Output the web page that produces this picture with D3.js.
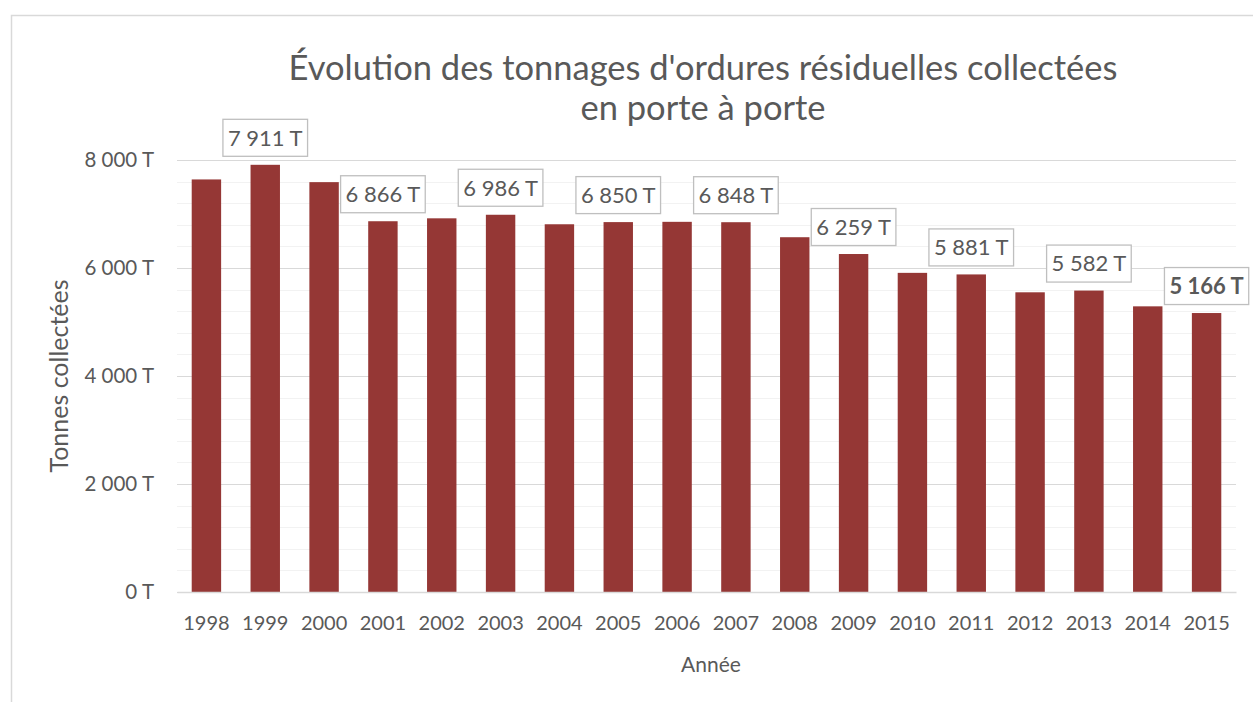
<!DOCTYPE html>
<html>
<head>
<meta charset="utf-8">
<script src="https://cdn.jsdelivr.net/npm/d3@7"></script>
<style>
  body { margin: 0; background: #fff; }
  svg { display: block; font-family: Lato, "Noto Sans", sans-serif; }
  .tick text { fill: #595959; font-family: Lato, "Noto Sans", sans-serif; }
</style>
</head>
<body>
<div id="chart"></div>
<script>
const years = ["1998", "1999", "2000", "2001", "2002", "2003", "2004", "2005", "2006",
  "2007", "2008", "2009", "2010", "2011", "2012", "2013", "2014", "2015"];
const tonnages = [7640, 7911, 7590, 6866, 6920, 6986, 6810, 6850, 6855,
  6848, 6570, 6259, 5910, 5881, 5550, 5582, 5290, 5166];
// Years that carry a data label, last one is shown in bold
const labeledYears = ["1999", "2001", "2003", "2005", "2007", "2009", "2011", "2013", "2015"];
const boldYears = ["2015"];
const yTicks = [0, 2000, 4000, 6000, 8000];
const titleLines = ["Évolution des tonnages d'ordures résiduelles collectées", "en porte à porte"];
const yTitle = "Tonnes collectées";
const xTitle = "Année";

class BarChart {
  constructor(_config, _data) {
    this.config = {
      parentElement: _config.parentElement,
      containerWidth: _config.containerWidth || 1253,
      containerHeight: _config.containerHeight || 702,
      margin: _config.margin || { top: 160, right: 17, bottom: 110, left: 177 },
    };
    this.data = _data;
    this.initVis();
  }

  initVis() {
    let vis = this;

    vis.width = vis.config.containerWidth - vis.config.margin.left - vis.config.margin.right;
    vis.height = vis.config.containerHeight - vis.config.margin.top - vis.config.margin.bottom;

    vis.svg = d3.select(vis.config.parentElement)
      .append("svg")
      .attr("width", vis.config.containerWidth)
      .attr("height", vis.config.containerHeight);

    // chart area frame (runs off the picture on the right and bottom)
    vis.svg.append("rect")
      .attr("x", 11.5)
      .attr("y", 15.5)
      .attr("width", vis.config.containerWidth + 20)
      .attr("height", vis.config.containerHeight + 20)
      .attr("fill", "#fff")
      .attr("stroke", "#d9d9d9")
      .attr("stroke-width", 1.5);

    vis.g = vis.svg.append("g")
      .attr("transform", `translate(${vis.config.margin.left},${vis.config.margin.top})`);

    vis.xScale = d3.scaleBand()
      .domain(years)
      .range([0, vis.width])
      .paddingInner(0.5)
      .paddingOuter(0.25);

    vis.yScale = d3.scaleLinear()
      .domain([0, 8000])
      .range([vis.height, 0]);

    const fr = d3.formatLocale({ decimal: ",", thousands: " ", grouping: [3], currency: ["", " €"] });
    vis.fmt = (v) => fr.format(",")(v) + " T";

    // minor gridlines
    vis.g.append("g")
      .selectAll("line")
      .data(d3.range(0, 8001, 400).filter((v) => v % 2000 !== 0))
      .join("line")
      .attr("x1", 0)
      .attr("x2", vis.width)
      .attr("y1", (d) => Math.round(vis.yScale(d)) + 0.5)
      .attr("y2", (d) => Math.round(vis.yScale(d)) + 0.5)
      .attr("stroke", "#f2f2f2");

    // y axis with major gridlines
    vis.yAxis = d3.axisLeft(vis.yScale)
      .tickValues(yTicks)
      .tickSize(-vis.width)
      .tickPadding(23)
      .tickFormat(vis.fmt);

    vis.g.append("g")
      .attr("class", "y-axis")
      .call(vis.yAxis)
      .attr("font-family", null)
      .call((g) => g.select(".domain").remove())
      .call((g) => g.selectAll(".tick line").attr("stroke", "#d9d9d9").attr("stroke-width", 1.2))
      .call((g) => g.selectAll(".tick text").attr("font-size", 20.5));

    // bars
    vis.g.append("g")
      .selectAll("rect")
      .data(vis.data)
      .join("rect")
      .attr("x", (d) => vis.xScale(d.year))
      .attr("y", (d) => vis.yScale(d.value))
      .attr("width", vis.xScale.bandwidth())
      .attr("height", (d) => vis.height - vis.yScale(d.value))
      .attr("fill", "#953735");

    // x axis
    vis.xAxis = d3.axisBottom(vis.xScale)
      .tickSize(0)
      .tickPadding(24);

    vis.g.append("g")
      .attr("class", "x-axis")
      .attr("transform", `translate(0,${vis.height})`)
      .call(vis.xAxis)
      .attr("font-family", null)
      .call((g) => g.select(".domain").attr("stroke", "#d9d9d9").attr("stroke-width", 1.5))
      .call((g) => g.selectAll(".tick text").attr("font-size", 20));

    // data labels in boxes
    vis.labels = vis.g.append("g")
      .selectAll("g")
      .data(vis.data.filter((d) => labeledYears.includes(d.year)))
      .join("g")
      .attr("transform", (d) =>
        `translate(${vis.xScale(d.year) + vis.xScale.bandwidth() / 2},${vis.yScale(d.value) - 27})`);

    vis.labels.append("rect")
      .attr("fill", "#fff")
      .attr("stroke", "#bfbfbf")
      .attr("stroke-width", 1.3);

    vis.labels.append("text")
      .attr("text-anchor", "middle")
      .attr("dy", "0.36em")
      .attr("font-size", 22)
      .attr("font-weight", (d) => boldYears.includes(d.year) ? "bold" : "normal")
      .attr("fill", "#595959")
      .text((d) => vis.fmt(d.value));

    vis.labels.each(function () {
      const t = d3.select(this).select("text").node().getBBox();
      d3.select(this).select("rect")
        .attr("x", t.x - 5)
        .attr("y", -18.5)
        .attr("width", t.width + 10)
        .attr("height", 37);
    });

    // titles
    vis.svg.append("text")
      .attr("x", 703)
      .attr("y", 80)
      .attr("text-anchor", "middle")
      .attr("font-size", 34.5)
      .attr("fill", "#595959")
      .selectAll("tspan")
      .data(titleLines)
      .join("tspan")
      .attr("x", 703)
      .attr("dy", (d, i) => i === 0 ? 0 : 40)
      .text((d) => d);

    vis.svg.append("text")
      .attr("transform", `translate(68,${vis.config.margin.top + vis.height / 2}) rotate(-90)`)
      .attr("text-anchor", "middle")
      .attr("font-size", 25)
      .attr("fill", "#595959")
      .text(yTitle);

    vis.svg.append("text")
      .attr("x", 711)
      .attr("y", 672)
      .attr("text-anchor", "middle")
      .attr("font-size", 21)
      .attr("fill", "#595959")
      .text(xTitle);
  }
}

const data = years.map((y, i) => ({ year: y, value: tonnages[i] }));
const chart = new BarChart({ parentElement: "#chart" }, data);
</script>
</body>
</html>
